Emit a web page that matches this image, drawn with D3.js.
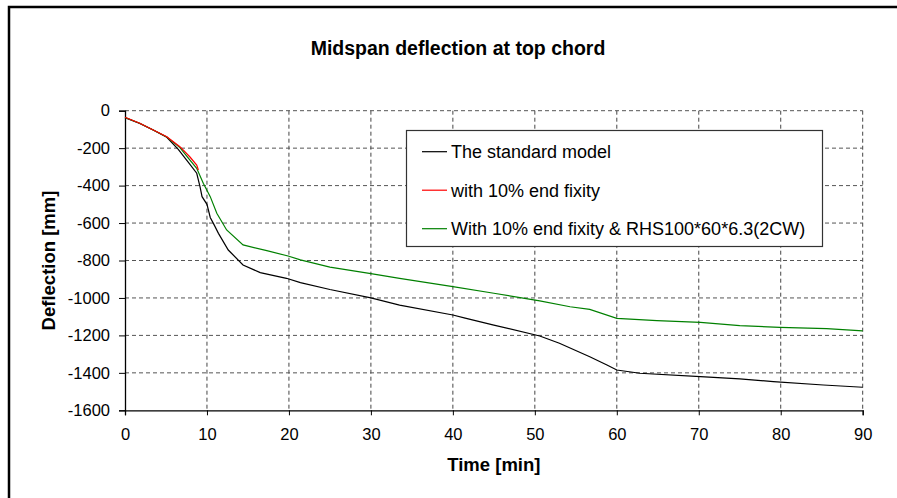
<!DOCTYPE html>
<html>
<head>
<meta charset="utf-8">
<script src="https://cdn.jsdelivr.net/npm/d3@7"></script>
<style>
  body { margin: 0; background: #fff; overflow: hidden; }
  svg { display: block; }
  text { font-family: "Liberation Sans", Arial, sans-serif; }
</style>
</head>
<body>
<div id="chart"></div>
<script>
// series: time [min], deflection [mm]
var standardT = [0, 1.8, 3.5, 5.1, 6.5, 7.9, 8.75, 9.15, 9.4, 10, 10.4, 10.8, 11.4, 12.6, 14.4, 16.5, 19.7, 21.4, 25, 30, 33.5, 40, 41.5, 45, 50.6, 53, 56.7, 58.8, 60, 62.8, 70.2, 75, 79.1, 85.2, 90];
var standardD = [-37, -68, -104, -142, -207, -285, -334, -406, -459, -500, -570, -603, -655, -744, -824, -865, -895, -918, -955, -1000, -1038, -1091, -1108, -1145, -1203, -1242, -1314, -1358, -1385, -1402, -1420, -1432, -1447, -1465, -1477];

var fixityT = [0, 1.8, 3.45, 5.1, 6.7, 7.9, 8.75, 8.95];
var fixityD = [-35, -67, -103, -139, -192, -246, -290, -317];

var rhsT = [0, 1.8, 3.5, 5.1, 6.7, 7.9, 8.75, 9.55, 10.4, 11.2, 12.4, 14.4, 17.3, 19.9, 21.4, 25, 30, 33.5, 40, 45, 50.6, 54.3, 56.7, 60, 64.9, 70.2, 75, 79.9, 85.6, 90];
var rhsD = [-36, -67, -104, -140, -197, -263, -308, -388, -459, -548, -637, -717, -747, -776, -797, -835, -870, -895, -940, -975, -1016, -1047, -1061, -1109, -1121, -1130, -1148, -1157, -1164, -1176];

var seriesNames = ["The standard model", "with 10% end fixity", "With 10% end fixity & RHS100*60*6.3(2CW)"];
var seriesColors = ["#000000", "#ff0000", "#008000"];

var xTicks = [0, 10, 20, 30, 40, 50, 60, 70, 80, 90];
var yTicks = [0, -200, -400, -600, -800, -1000, -1200, -1400, -1600];

var chartTitle = "Midspan deflection at top chord";
var xTitle = "Time [min]";
var yTitle = "Deflection [mm]";

var W = 897, H = 498;
var margin = { top: 110.7, left: 125, right: 34.3, bottom: 87.7 };
var width = W - margin.left - margin.right,
    height = H - margin.top - margin.bottom;

var svg = d3.select("#chart")
    .append("svg")
    .attr("width", W)
    .attr("height", H);

// outer chart frame: only its left and top edges fall inside the picture
svg.append("path")
    .attr("d", "M9," + H + "V7H" + W)
    .attr("fill", "none")
    .attr("stroke", "#000")
    .attr("stroke-width", 2.5);

var x = d3.scaleLinear().domain([0, 90]).range([0, width]);
var y = d3.scaleLinear().domain([-1600, 0]).range([height, 0]);

var g = svg.append("g")
    .attr("transform", "translate(" + margin.left + "," + margin.top + ")");

// dashed gridlines
g.append("g")
    .selectAll("line")
    .data(xTicks.slice(1))
    .enter()
    .append("line")
    .attr("x1", function(d) { return x(d); })
    .attr("x2", function(d) { return x(d); })
    .attr("y1", 0)
    .attr("y2", height)
    .attr("stroke", "#444")
    .attr("stroke-dasharray", "4,3");

g.append("g")
    .selectAll("line")
    .data(yTicks.slice(0, -1))
    .enter()
    .append("line")
    .attr("x1", 0)
    .attr("x2", width)
    .attr("y1", function(d) { return y(d); })
    .attr("y2", function(d) { return y(d); })
    .attr("stroke", "#555")
    .attr("stroke-dasharray", "4,3");

// axes, plain integer labels with ascii minus
var fmt = function(d) { return String(d); };

var xAxis = g.append("g")
    .attr("transform", "translate(0," + height + ")")
    .call(d3.axisBottom(x).tickValues(xTicks).tickFormat(fmt).tickSize(5).tickPadding(13));

var yAxis = g.append("g")
    .call(d3.axisLeft(y).tickValues(yTicks).tickFormat(fmt).tickSize(6).tickPadding(9));

[xAxis, yAxis].forEach(function(a) {
    a.select(".domain").attr("stroke", "#000").attr("stroke-width", 1.3);
    a.selectAll(".tick line").attr("stroke", "#000");
    a.selectAll(".tick text")
        .attr("fill", "#000")
        .style("font-size", "16.5px")
        .style("font-family", "Liberation Sans, Arial, sans-serif");
});

// lines
var line = d3.line()
    .x(function(d) { return x(d[0]); })
    .y(function(d) { return y(d[1]); });

var series = [
    d3.zip(standardT, standardD),
    d3.zip(fixityT, fixityD),
    d3.zip(rhsT, rhsD)
];

// black underneath, then green, red on top
[0, 2, 1].forEach(function(i) {
    g.append("path")
        .datum(series[i])
        .attr("d", line)
        .attr("fill", "none")
        .attr("stroke", seriesColors[i])
        .attr("stroke-width", 1.2);
});

// titles
svg.append("text")
    .attr("x", 458)
    .attr("y", 55)
    .attr("text-anchor", "middle")
    .style("font-size", "19.5px")
    .style("font-weight", "bold")
    .text(chartTitle);

svg.append("text")
    .attr("x", margin.left + width / 2)
    .attr("y", 471)
    .attr("text-anchor", "middle")
    .style("font-size", "18.5px")
    .style("font-weight", "bold")
    .text(xTitle);

svg.append("text")
    .attr("transform", "translate(55," + (margin.top + height / 2) + ") rotate(-90)")
    .attr("text-anchor", "middle")
    .style("font-size", "18.5px")
    .style("font-weight", "bold")
    .text(yTitle);

// legend
var legend = svg.append("g");

legend.append("rect")
    .attr("x", 406.5)
    .attr("y", 130.5)
    .attr("width", 416)
    .attr("height", 116)
    .attr("fill", "#fff")
    .attr("stroke", "#333")
    .attr("stroke-width", 1.2);

var rows = legend.selectAll("g.row")
    .data(seriesNames)
    .enter()
    .append("g")
    .attr("class", "row")
    .attr("transform", function(d, i) { return "translate(0," + (151.7 + i * 38.5) + ")"; });

rows.append("line")
    .attr("x1", 422)
    .attr("x2", 447)
    .attr("stroke", function(d, i) { return seriesColors[i]; })
    .attr("stroke-width", 1.2);

rows.append("text")
    .attr("x", 451)
    .attr("dy", "0.35em")
    .style("font-size", "18px")
    .text(function(d) { return d; });
</script>
</body>
</html>
